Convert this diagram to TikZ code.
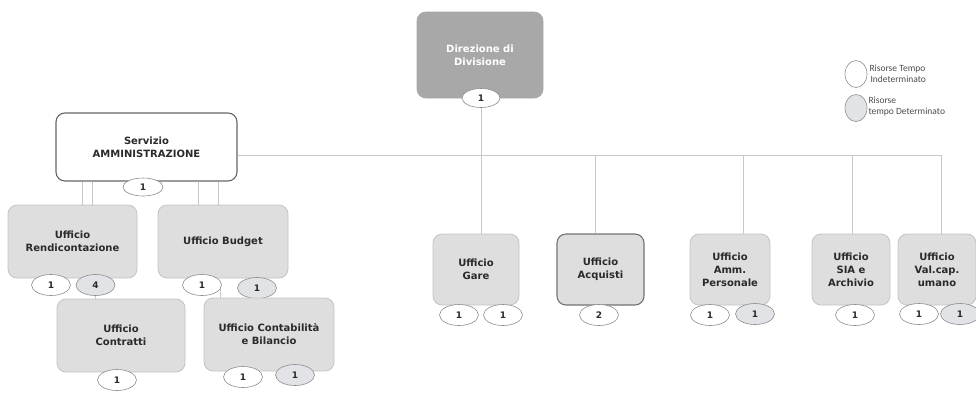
\documentclass[tikz,border=0pt]{standalone}
\usepackage{fontspec}
\setmainfont{DejaVu Sans}
\newfontfamily\legfont{Carlito}
\usepackage{tikz}
\usetikzlibrary{shapes,positioning,backgrounds}
\usepackage{xcolor}
\definecolor{boxgray}{HTML}{DEDEDE}
\definecolor{boxline}{HTML}{C4C4C4}
\definecolor{dirgray}{HTML}{A8A8A8}
\definecolor{linkgray}{HTML}{C8C8C8}
\definecolor{tdgray}{HTML}{E1E3E7}
\definecolor{txtgray}{HTML}{2A2A2A}

\begin{document}
\begin{tikzpicture}[x=1pt,y=-1pt]
      \tikzstyle{office} = [rectangle, rounded corners=9pt, draw=boxline, line width=0.8pt, fill=boxgray, inner sep=2pt, align=center, text=txtgray, font=\fontsize{10}{13}\selectfont\bfseries]
      \tikzstyle{ti} = [ellipse, draw=gray!90, line width=0.6pt, fill=white, minimum width=39pt, minimum height=21pt, inner sep=0pt, text=txtgray, font=\fontsize{9}{9}\selectfont\bfseries]
      \tikzstyle{td} = [ti, fill=tdgray]
      \tikzstyle{link} = [draw=linkgray, line width=0.6pt]
      \useasboundingbox (0,0) rectangle (976,392);

      \node[office, fill=dirgray, draw=dirgray, text=white, minimum width=126pt, minimum height=86pt] (dir) at (480,55) {Direzione di\\Divisione};
      \node[ti, minimum width=38pt, minimum height=19pt] (dirA) at (481,98) {1};

      \node[office, fill=white, draw=gray!80!black, line width=1.1pt, minimum width=181pt, minimum height=68pt] (serv) at (146.5,147) {Servizio\\AMMINISTRAZIONE};
      \node[ti, minimum width=40pt, minimum height=18pt] (servA) at (143,187) {1};

      \node[office, minimum width=129pt, minimum height=73pt] (rend) at (72.5,241.5) {Ufficio\\Rendicontazione};
      \node[ti] (rendA) at (51,285) {1};
      \node[td] (rendB) at (95.5,285) {4};

      \node[office, minimum width=130pt, minimum height=73pt] (budget) at (223,241.5) {Ufficio Budget};
      \node[ti] (budA) at (202,285) {1};
      \node[td] (budB) at (257,288) {1};

      \node[office, minimum width=128pt, minimum height=73pt] (contr) at (121,335.5) {Ufficio\\Contratti};
      \node[ti] (contrA) at (117,380) {1};

      \node[office, minimum width=130pt, minimum height=73pt] (contab) at (269,334.5) {Ufficio Contabilità\\e Bilancio};
      \node[ti] (contabA) at (243,377) {1};
      \node[td] (contabB) at (295,375) {1};

      \node[office, minimum width=86pt, minimum height=71pt] (gare) at (476,269.5) {Ufficio\\Gare};
      \node[ti] (gareA) at (459,315) {1};
      \node[ti] (gareB) at (503,315) {1};

      \node[office, draw=gray!90!black, line width=1.1pt, minimum width=87pt, minimum height=71pt] (acq) at (600.5,269.5) {Ufficio\\Acquisti};
      \node[ti] (acqA) at (599,315) {2};

      \node[office, minimum width=80pt, minimum height=71pt] (amm) at (730,269.5) {Ufficio\\Amm.\\Personale};
      \node[ti] (ammA) at (710,315) {1};
      \node[td] (ammB) at (755,314) {1};

      \node[office, minimum width=78pt, minimum height=71pt] (sia) at (851,269.5) {Ufficio\\SIA e\\Archivio};
      \node[ti] (siaA) at (855,315) {1};

      \node[office, minimum width=78pt, minimum height=71pt] (valcap) at (937,269.5) {Ufficio\\Val.cap.\\umano};
      \node[ti] (valA) at (919,314) {1};
      \node[td] (valB) at (960,314) {1};

      \node[ti, minimum width=22pt, minimum height=27pt] (legA) at (856,74) {};
      \node[td, minimum width=22pt, minimum height=27pt] (legB) at (856,108) {};
      \node[right=2pt of legA.east, anchor=west, align=left, text=black!70, font=\legfont\fontsize{9.5}{11}\selectfont, inner sep=0pt] (legAt) {Risorse Tempo\\\hspace*{1pt}Indeterminato};
      \node[right=1pt of legB.east, anchor=west, align=left, text=black!70, font=\legfont\fontsize{9.5}{11}\selectfont, inner sep=0pt, yshift=2pt] (legBt) {Risorse\\tempo Determinato};

      \coordinate (bus) at (0,155);
      \begin{scope}[on background layer]
        \draw[link] (serv.east |- bus) -| ([xshift=4pt]valcap.north);
        \draw[link] (dirA.south) -- (dirA.south |- gare.north);
        \draw[link] ([xshift=-5pt]acq.north) -- ([xshift=-5pt]acq.north |- bus);
        \draw[link] ([xshift=13pt]amm.north) -- ([xshift=13pt]amm.north |- bus);
        \draw[link] ([xshift=1pt]sia.north) -- ([xshift=1pt]sia.north |- bus);
        \draw[link] ([xshift=10pt]rend.north) -- ([xshift=10pt]rend.north |- serv.south);
        \draw[link] ([xshift=20pt]rend.north) -- ([xshift=20pt]rend.north |- serv.south);
        \draw[link] ([xshift=-25pt]budget.north) -- ([xshift=-25pt]budget.north |- serv.south);
        \draw[link] ([xshift=-5pt]budget.north) -- ([xshift=-5pt]budget.north |- serv.south);
        \draw[link] (rendB.center) -- (rendB.center |- contr.north);
        \draw[link] ([xshift=18pt]budA.center) -- ([xshift=18pt]budA.center |- contab.north);
      \end{scope}
    \end{tikzpicture}
\end{document}
